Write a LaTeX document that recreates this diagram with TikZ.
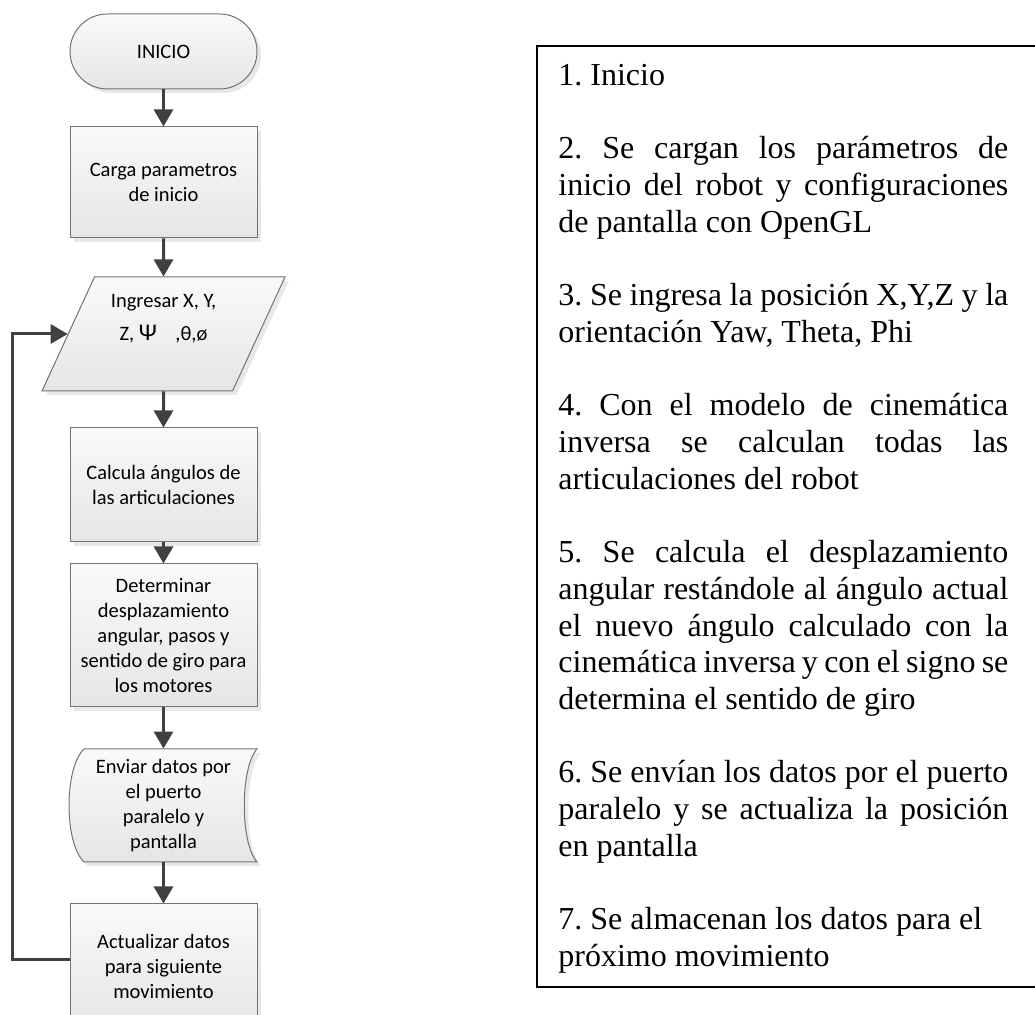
\documentclass[tikz,border=0pt]{standalone}
\usepackage{fontspec}
\setmainfont{Liberation Serif}
\newfontfamily\flowfont{Carlito}
\usetikzlibrary{arrows.meta,shapes.geometric,shadows}
\tikzset{
  fillshade/.style={draw=black!55, line width=0.5pt, top color=white!98!black, bottom color=white!90!black,
    drop shadow={shadow xshift=2pt, shadow yshift=-2pt, fill=black!9, opacity=1}},
  flowtext/.style={align=center, inner sep=2pt, font=\flowfont\fontsize{10.25}{12.5}\selectfont},
  block/.style={fillshade, flowtext, minimum width=93.5pt},
  flow/.style={line width=1.5pt, draw=black!75, -{Triangle[length=8.5pt,width=9.5pt]}}
}

\begin{document}
\begin{tikzpicture}[x=0.5pt, y=-0.5pt]
\useasboundingbox (0,0) rectangle (1035,1015);
\clip (0,0) rectangle (1035,1015);
\node[block, rounded corners=18.7pt, minimum height=37.5pt] (inicio) at (163.5,51.5) {INICIO};
\node[block, minimum height=55.5pt] (carga) at (163.5,182.5) {Carga parametros\\de inicio};
\node[block, trapezium, trapezium left angle=64, trapezium right angle=116, trapezium stretches=true,
  minimum width=122pt, minimum height=57pt] (ingresar) at (163.5,334) {Ingresar X, Y,\\[4pt]Z, {\fontsize{12}{12}\selectfont Ψ}\hspace{0.9em},θ,ø\\[4.5pt]\mbox{}};
\node[block, minimum height=57pt] (calcula) at (163.5,485) {Calcula ángulos de\\las articulaciones};
\node[block, minimum height=71.5pt] (determinar) at (163.5,635.5) {Determinar\\desplazamiento\\angular, pasos y\\sentido de giro para\\los motores};
\path[fillshade] (84,749) -- (257,749) .. controls (240,768) and (240,843) .. (257,862)
  -- (84,862) .. controls (64,843) and (64,768) .. (84,749) -- cycle;
\node[flowtext, minimum width=93.5pt, minimum height=56.5pt] (enviar) at (163.5,805.5) {Enviar datos por\\el puerto\\paralelo y\\pantalla};
\node[block, minimum height=62pt] (actualizar) at (163.5,966) {Actualizar datos\\para siguiente\\movimiento};

\foreach \a/\b in {inicio/carga, carga/ingresar, ingresar/calcula, calcula/determinar, determinar/enviar, enviar/actualizar}
  \draw[flow] (\a) -- (\b);
\draw[flow] ([yshift=3pt]actualizar.west) -- ++(-57,0) |- (ingresar.west);

\draw[line width=1pt] (1035,46) -- (537,46) -- (537,987) -- (1035,987);
\node[anchor=north west, text width=225pt, inner sep=0pt, align=justify, font=\fontsize{16}{18.35}\selectfont] (notas) at (558,64) {%
\parindent=0pt\parskip=18.35pt\hyphenpenalty=10000\frenchspacing
1. Inicio\par
2. Se cargan los parámetros de\linebreak inicio del robot y configuraciones\linebreak de pantalla con OpenGL\par
3. Se ingresa la posición X,Y,Z y la\linebreak orientación Yaw, Theta, Phi\par
4. Con el modelo de cinemática\linebreak inversa se calculan todas las\linebreak articulaciones del robot\par
5. Se calcula el desplazamiento\linebreak angular restándole al ángulo actual\linebreak el nuevo ángulo calculado con la\linebreak cinemática inversa y con el signo se\linebreak determina el sentido de giro\par
6. Se envían los datos por el puerto\linebreak paralelo y se actualiza la posición\linebreak en pantalla\par
7. Se almacenan los datos para el\newline próximo movimiento};
\end{tikzpicture}
\end{document}
